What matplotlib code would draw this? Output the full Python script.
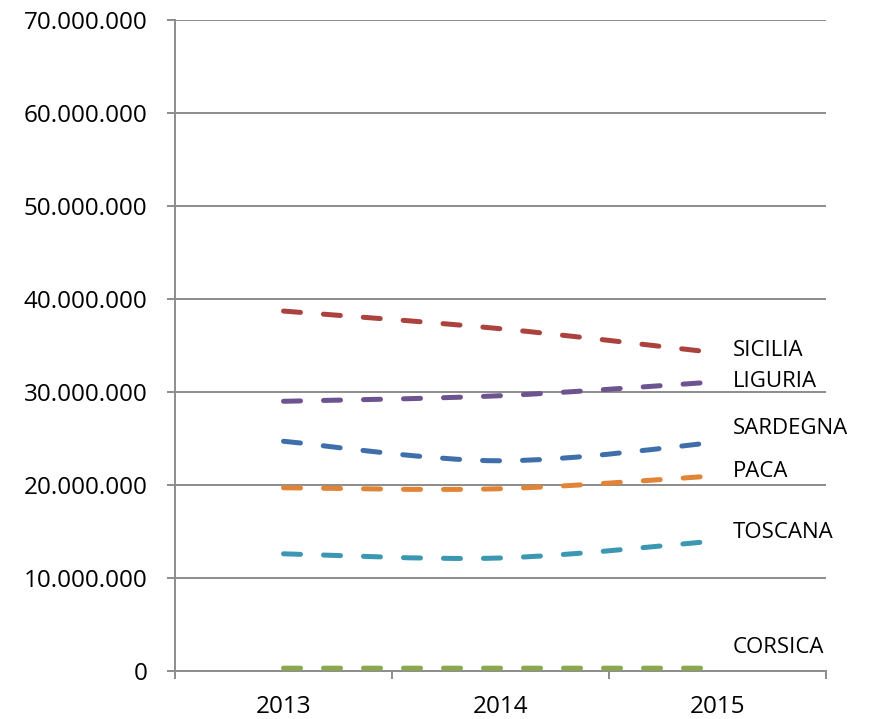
import matplotlib as mpl
mpl.use('Agg')
import matplotlib.pyplot as plt
from matplotlib.path import Path
from matplotlib.patches import PathPatch
from matplotlib.ticker import FuncFormatter, FixedLocator
import numpy as np

# data
years = ['2013', '2014', '2015']
regions = ['SICILIA', 'LIGURIA', 'SARDEGNA', 'PACA', 'TOSCANA', 'CORSICA']
sicilia = [38700000, 36800000, 34200000]
liguria = [29000000, 29600000, 31100000]
sardegna = [24700000, 22600000, 24600000]
paca = [19700000, 19600000, 21000000]
toscana = [12600000, 12150000, 14000000]
corsica = [300000, 300000, 300000]

series = [sicilia, liguria, sardegna, paca, toscana, corsica]
colors = ['#AB423E', '#6E5391', '#3F6FAB', '#E18436', '#3C97B2', '#8BA84C']
# label offsets (px) from the last point
label_dy = [2, 0, 14, 4, 8, 21]

plt.rcParams['font.family'] = ['Open Sans', 'DejaVu Sans']

fig = plt.figure(figsize=(8.69, 7.19), dpi=100)
ax = fig.add_axes([0.2014, 0.0668, 0.7491, 0.9054])

ax.set_xlim(-0.5, 2.5)
ax.set_ylim(0, 70000000)


def smooth_path(xs, ys):
    # excel style smoothed line: bezier through the points
    pts = np.column_stack([xs, ys]).astype(float)
    n = len(pts)
    verts = [pts[0]]
    codes = [Path.MOVETO]
    for i in range(n - 1):
        p0 = pts[i - 1] if i > 0 else pts[i]
        p1 = pts[i]
        p2 = pts[i + 1]
        p3 = pts[i + 2] if i + 2 < n else pts[i + 1]
        c1 = p1 + (p2 - p0) / 6.0
        c2 = p2 - (p3 - p1) / 6.0
        verts += [c1, c2, p2]
        codes += [Path.CURVE4] * 3
    return Path(verts, codes)


x = np.arange(len(years))
for vals, col, name, dy in zip(series, colors, regions, label_dy):
    patch = PathPatch(smooth_path(x, vals), fill=False, edgecolor=col,
                      linewidth=3.6, linestyle=(0, (3.4, 4.6)),
                      capstyle='round', zorder=3)
    ax.add_patch(patch)
    ax.annotate(name, xy=(x[-1], vals[-1]), xytext=(15 * 0.72, dy * 0.72),
                textcoords='offset points', ha='left', va='center',
                fontsize=16, color='black')

# axes styling
grid_col = '#8C8C8C'
ax.yaxis.set_major_locator(FixedLocator(np.arange(0, 70000001, 10000000)))
ax.yaxis.set_major_formatter(FuncFormatter(lambda v, p: '{:,}'.format(int(v)).replace(',', '.')))
ax.grid(axis='y', color=grid_col, linewidth=1.4)
ax.set_axisbelow(True)

ax.set_xticks([-0.5, 0.5, 1.5, 2.5])
ax.set_xticklabels([])
ax.set_xticks(x, minor=True)
ax.set_xticklabels(years, minor=True)
ax.tick_params(axis='x', which='major', length=6, width=1.4, color=grid_col)
ax.tick_params(axis='x', which='minor', length=0, pad=17, labelsize=17.5)
ax.tick_params(axis='y', length=6, width=1.4, color=grid_col, pad=14, labelsize=17.5)

for s in ['top', 'right']:
    ax.spines[s].set_visible(False)
for s in ['left', 'bottom']:
    ax.spines[s].set_color(grid_col)
    ax.spines[s].set_linewidth(1.4)

fig.savefig('out.png', dpi=100)
